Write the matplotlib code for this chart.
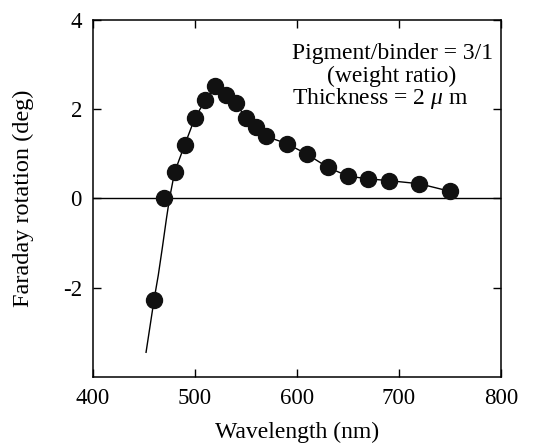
import numpy as np
import matplotlib
matplotlib.use("Agg")
import matplotlib.pyplot as plt

# measured points
wavelength = [460, 470, 480, 490, 500, 510, 520, 530, 540, 550, 560, 570,
              590, 610, 630, 650, 670, 690, 720, 750]
rotation = [-2.27, 0.02, 0.59, 1.21, 1.81, 2.20, 2.52, 2.31, 2.13, 1.81, 1.60,
            1.39, 1.23, 0.99, 0.70, 0.50, 0.44, 0.40, 0.33, 0.16]

# guide curve drawn through the points
curve_wl = [452, 456, 460, 464, 468, 472, 475, 480, 490, 500, 510, 520, 530,
            540, 550, 560, 570, 590, 610, 630, 650, 670, 690, 720, 750]
curve_rot = [-3.45, -2.85, -2.25, -1.72, -1.10, -0.45, 0.0, 0.59, 1.21, 1.81,
             2.20, 2.50, 2.31, 2.13, 1.81, 1.60, 1.39, 1.23, 0.99, 0.70, 0.50,
             0.44, 0.40, 0.33, 0.16]

xticks = [400, 500, 600, 700, 800]
yticks = [-2, 0, 2, 4]

plt.rcParams['font.family'] = ['Liberation Serif', 'DejaVu Serif']
plt.rcParams['axes.unicode_minus'] = False
plt.rcParams['mathtext.fontset'] = 'custom'
plt.rcParams['mathtext.rm'] = 'Liberation Serif'
plt.rcParams['mathtext.it'] = 'Liberation Serif:italic'

fig = plt.figure(figsize=(5.33, 4.47), dpi=100)
ax = fig.add_axes([0.1745, 0.157, 0.7655, 0.798])

ax.axhline(0, color='black', lw=1.0)
ax.plot(curve_wl, curve_rot, color='black', lw=1.0)
ax.plot(wavelength, rotation, 'o', color='#111111', ms=11.5, mec='#111111')

ax.set_xlim(400, 800)
ax.set_ylim(-4, 4)
ax.set_xticks(xticks)
ax.set_yticks(yticks)
ax.tick_params(direction='in', length=6, width=1, top=True, right=True,
               labelsize=16.5, pad=8)
for s in ax.spines.values():
    s.set_linewidth(1.1)

ax.set_xlabel('Wavelength (nm)', fontsize=17, labelpad=9)
ax.set_ylabel('Faraday rotation (deg)', fontsize=17.5, labelpad=21)

ax.text(595, 3.26, 'Pigment/binder = 3/1', fontsize=17, va='center', ha='left')
ax.text(693, 2.74, '(weight ratio)', fontsize=17, va='center', ha='center')
ax.text(595, 2.25, 'Thickness = 2 $\\mu$ m', fontsize=17, va='center', ha='left')

fig.savefig('out.png', dpi=100)
